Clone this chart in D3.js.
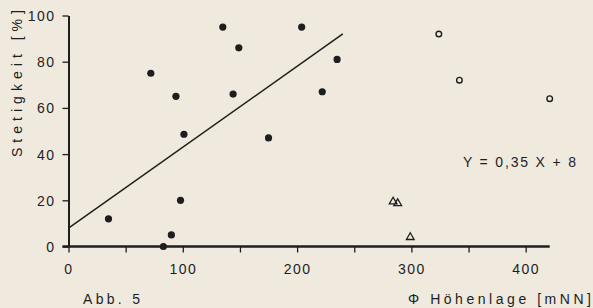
<!DOCTYPE html>
<html>
<head>
<meta charset="utf-8">
<script src="https://cdn.jsdelivr.net/npm/d3@7"></script>
<style>
  html, body { margin: 0; padding: 0; background: #efe9de; }
  svg { display: block; }
  text { font-family: "Liberation Sans", "DejaVu Sans", sans-serif; fill: #1e1e1e; }
</style>
</head>
<body>
<svg id="chart" width="593" height="308"></svg>
<script>
// Data (x: mean altitude [mNN], y: Stetigkeit [%])
const filledX = [35, 72, 83, 90, 94, 98, 101, 135, 144, 149, 175, 204, 222, 235];
const filledY = [12, 75, 0, 5, 65, 20, 48.6, 95, 66, 86, 47, 95, 67, 81];
const openX = [324, 342, 421];
const openY = [92, 72, 64];
const triX = [284, 288, 299];
const triY = [19.4, 18.7, 4];
const regression = { slope: 0.35, intercept: 8, xStart: 0, xEnd: 240 };
const xTicks = [0, 50, 100, 150, 200, 250, 300, 350, 400];
const xTickLabels = ["0", "", "100", "", "200", "", "300", "", "400"];
const yTicks = [0, 20, 40, 60, 80, 100];
const yTickLabels = ["0", "20", "40", "60", "80", "100"];
const xAxisTitle = "\u03A6 Höhenlage [mNN]";
const yAxisTitle = "Stetigkeit [%]";
const figLabel = "Abb. 5";
const equation = "Y = 0,35 X + 8";

const svg = d3.select("#chart");
const ink = "#1e1e1e";

const x = d3.scaleLinear().domain([0, 421]).range([68.5, 549.7]);
const y = d3.scaleLinear().domain([0, 100]).range([246.5, 15.5]);

// X axis
const xAxis = d3.axisBottom(x).tickValues(xTicks).tickSize(6).tickSizeOuter(0)
  .tickFormat((d, i) => xTickLabels[i]);
const gx = svg.append("g").attr("transform", `translate(0,${y(0)})`).call(xAxis);
gx.select(".domain").attr("stroke", ink).attr("stroke-width", 2.4)
  .attr("d", `M${x(0) - 6},0H${x(421)}`);
gx.selectAll(".tick line").attr("stroke", ink).attr("stroke-width", 1.3);
gx.selectAll(".tick text").attr("dy", 0).attr("y", 27)
  .style("font-size", "14px").style("letter-spacing", "1.5px").attr("fill", ink);

// Y axis
const yAxis = d3.axisLeft(y).tickValues(yTicks).tickSize(6).tickSizeOuter(0)
  .tickFormat((d, i) => yTickLabels[i]);
const gy = svg.append("g").attr("transform", `translate(${x(0)},0)`).call(yAxis);
gy.select(".domain").attr("stroke", ink).attr("stroke-width", 2);
gy.selectAll(".tick line").attr("stroke", ink).attr("stroke-width", 1.3);
gy.selectAll(".tick text").attr("x", -13).attr("dy", "0.36em")
  .style("font-size", "14px").style("letter-spacing", "1.5px").attr("fill", ink);

// Regression line
svg.append("line")
  .attr("x1", x(regression.xStart)).attr("y1", y(regression.slope * regression.xStart + regression.intercept))
  .attr("x2", x(regression.xEnd)).attr("y2", y(regression.slope * regression.xEnd + regression.intercept))
  .attr("stroke", ink).attr("stroke-width", 1.5);

// Filled circles
svg.append("g").selectAll("circle").data(filledX).join("circle")
  .attr("cx", d => x(d)).attr("cy", (d, i) => y(filledY[i]))
  .attr("r", 3.6).attr("fill", ink);

// Open circles
svg.append("g").selectAll("circle").data(openX).join("circle")
  .attr("cx", d => x(d)).attr("cy", (d, i) => y(openY[i]))
  .attr("r", 2.8).attr("fill", "none").attr("stroke", ink).attr("stroke-width", 1.4);

// Triangles
const tri = d3.symbol().type(d3.symbolTriangle).size(26);
svg.append("g").selectAll("path").data(triX).join("path")
  .attr("transform", (d, i) => `translate(${x(d)},${y(triY[i])})`)
  .attr("d", tri).attr("fill", "none").attr("stroke", ink).attr("stroke-width", 1.3);

// Texts
svg.append("text").attr("x", 463).attr("y", 167)
  .attr("textLength", 113).attr("lengthAdjust", "spacing")
  .style("font-size", "14px").text(equation);

svg.append("text").attr("x", 83).attr("y", 304)
  .attr("textLength", 57).attr("lengthAdjust", "spacing")
  .style("font-size", "14px").text(figLabel);

svg.append("text").attr("x", 408).attr("y", 304)
  .attr("textLength", 183).attr("lengthAdjust", "spacing")
  .style("font-size", "14px").text(xAxisTitle);

svg.append("text")
  .attr("transform", "translate(22,157) rotate(-90)")
  .attr("x", 0).attr("y", 0)
  .attr("textLength", 147).attr("lengthAdjust", "spacing")
  .style("font-size", "14px").text(yAxisTitle);
</script>
</body>
</html>
